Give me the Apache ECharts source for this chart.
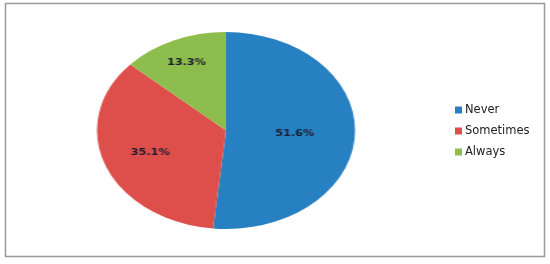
<!DOCTYPE html>
<html>
<head>
<meta charset="utf-8">
<script src="https://cdn.jsdelivr.net/npm/echarts@6/dist/echarts.min.js"></script>
<style>
html,body{margin:0;padding:0;background:#fff;}
#wrap{position:relative;width:550px;height:264px;overflow:hidden;background:#fff;}
#pie{position:absolute;left:0;top:0;width:550px;height:264px;transform:scaleX(1.31);transform-origin:226px 130px;}
#leg{position:absolute;left:0;top:0;width:550px;height:264px;}
</style>
</head>
<body>
<div id="wrap"><div id="pie"></div><div id="leg"></div></div>
<script>
const categories = ['Never', 'Sometimes', 'Always'];
const values = [51.6, 35.1, 13.3];
const colors = ['#2680C2', '#DE4F4B', '#8DBD4C'];

const data = categories.map((c, i) => ({ name: c, value: values[i] }));
const total = values.reduce((a, b) => a + b, 0);
const CX = 226, CY = 130.5;

const pieChart = echarts.init(document.getElementById('pie'), null, { renderer: 'canvas' });
pieChart.setOption({
  animation: false,
  color: colors,
  series: [{
    type: 'pie',
    center: [CX, CY],
    radius: 98.5,
    startAngle: 90,
    clockwise: true,
    data: data,
    itemStyle: { borderWidth: 0 },
    label: {
      show: true,
      position: 'inside',
      formatter: p => p.value.toFixed(1) + '%',
      fontFamily: '"Liberation Sans Narrow", "DejaVu Sans Condensed", sans-serif',
      fontSize: 9.5,
      fontWeight: 'bold',
      color: '#1c1c2c'
    },
    labelLine: { show: false },
    labelLayout: function (p) {
      // push labels of smaller slices further out (best-fit style)
      const share = values[p.dataIndex] / total;
      const k = (0.5 + Math.max(0, 0.55 * (0.52 - share))) / 0.5;
      const r = p.labelRect;
      const lx = r.x + r.width / 2, ly = r.y + r.height / 2;
      return { x: CX + (lx - CX) * k, y: CY + (ly - CY) * k, align: 'center', verticalAlign: 'middle' };
    },
    emphasis: { disabled: true }
  }]
});

const legChart = echarts.init(document.getElementById('leg'), null, { renderer: 'canvas' });
legChart.setOption({
  animation: false,
  color: colors,
  graphic: [{
    type: 'rect',
    shape: { x: 5.5, y: 3.5, width: 539, height: 253 },
    style: { fill: 'none', stroke: '#9a9a9a', lineWidth: 1.5 },
    silent: true
  }],
  legend: {
    orient: 'vertical',
    left: 455,
    top: 104,
    padding: 0,
    icon: 'rect',
    itemWidth: 7,
    itemHeight: 7,
    itemGap: 9,
    selectedMode: false,
    textStyle: { fontFamily: '"DejaVu Sans", sans-serif', fontSize: 11.5, color: '#222', padding: [0, 0, 0, -2] },
    data: categories
  },
  series: [{
    type: 'pie',
    radius: 0,
    silent: true,
    label: { show: false },
    labelLine: { show: false },
    data: data
  }]
});
</script>
</body>
</html>
